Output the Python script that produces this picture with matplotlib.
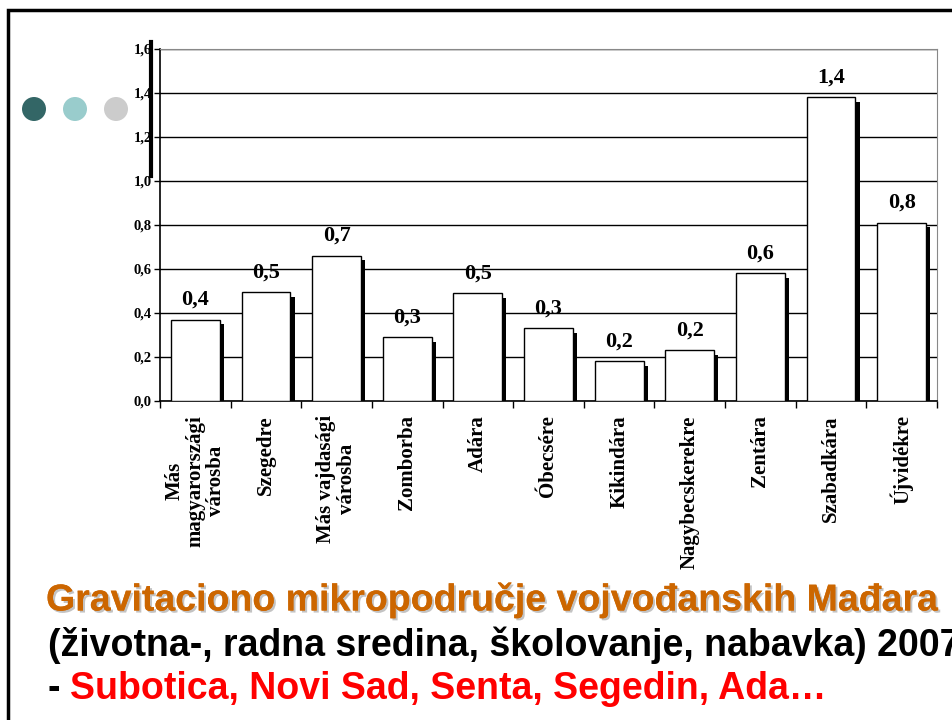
import numpy as np
import matplotlib.pyplot as plt
import matplotlib.patheffects as pe
from matplotlib.patches import Rectangle, Ellipse

categories = ["Más\nmagyarországi\nvárosba", "Szegedre", "Más vajdasági\nvárosba",
              "Zomborba", "Adára", "Óbecsére", "Kikindára", "Nagybecskerekre",
              "Zentára", "Szabadkára", "Újvidékre"]
values = [0.37, 0.495, 0.66, 0.29, 0.49, 0.33, 0.18, 0.23, 0.58, 1.38, 0.81]
value_labels = ["0,4", "0,5", "0,7", "0,3", "0,5", "0,3", "0,2", "0,2", "0,6", "1,4", "0,8"]
yticks = [0.0, 0.2, 0.4, 0.6, 0.8, 1.0, 1.2, 1.4, 1.6]
ytick_labels = ["0,0", "0,2", "0,4", "0,6", "0,8", "1,0", "1,2", "1,4", "1,6"]

serif = "Liberation Serif"
sans = "Liberation Sans"
W, H = 953, 720

fig = plt.figure(figsize=(9.53, 7.2), dpi=100)

# slide frame and decoration
fig.patches.append(Rectangle((8 / W, -0.1), 1.2, 1 - 10 / H + 0.1, transform=fig.transFigure,
                             fill=False, edgecolor="black", linewidth=2.5))
for cx, col in zip([34, 75, 116], ["#336666", "#99CCCC", "#CCCCCC"]):
    fig.patches.append(Ellipse((cx / W, 1 - 109 / H), 24 / W, 24 / H, transform=fig.transFigure,
                               facecolor=col, edgecolor="none"))
fig.lines.append(plt.Line2D([151 / W, 151 / W], [1 - 42 / H, 1 - 176 / H],
                            transform=fig.transFigure, color="black", linewidth=3, zorder=5))

ax = fig.add_axes([160 / W, 1 - 401 / H, (937 - 160) / W, (401 - 49) / H])
x = np.arange(len(values))
w = 0.69
ax.bar(x + 0.06, np.array(values) - 0.02, width=w, color="black", zorder=2)
ax.bar(x, values, width=w, color="white", edgecolor="black", linewidth=1, zorder=3)
for xi, v, lab in zip(x, values, value_labels):
    ax.text(xi, v + 0.045, lab, ha="center", va="bottom", fontsize=16,
            fontweight="bold", family=serif)

ax.set_xlim(-0.5, len(values) - 0.5)
ax.set_ylim(0, 1.6)
ax.set_yticks(yticks)
ax.set_yticklabels(ytick_labels, fontsize=10.5, fontweight="bold", family=serif)
ax.yaxis.grid(True, color="black", linewidth=1)
ax.set_axisbelow(True)
ax.set_xticks(np.arange(len(values) + 1) - 0.5)
ax.set_xticklabels([])
ax.tick_params(axis="x", length=5, width=1, direction="out")
ax.tick_params(axis="y", length=4, width=1, direction="out", pad=2)
for xi, c in zip(x, categories):
    ax.text(xi, -0.065, c, rotation=90, ha="center", va="top", multialignment="center",
            fontsize=15, fontweight="bold", family=serif, linespacing=1.05)
ax.spines["left"].set_linewidth(1.2)
ax.spines["bottom"].set_linewidth(1.2)
ax.spines["top"].set_color("#888888")
ax.spines["right"].set_color("#888888")

# slide title text
fs = 27
shadow = [pe.withSimplePatchShadow(offset=(1.5, -1.5), shadow_rgbFace="#888888", alpha=0.5),
          pe.Normal()]
fig.text(46 / W, 1 - 600 / H, "Gravitaciono mikropodručje vojvođanskih Mađara",
         color="#CC6600", fontsize=fs, fontweight="bold", family=sans, va="center",
         path_effects=shadow)
fig.text(48 / W, 1 - 645 / H, "(životna-, radna sredina, školovanje, nabavka) 2007",
         color="black", fontsize=fs, fontweight="bold", family=sans, va="center")
fig.text(48 / W, 1 - 689 / H, "-", color="black", fontsize=fs, fontweight="bold",
         family=sans, va="center")
fig.text(70 / W, 1 - 689 / H, "Subotica, Novi Sad, Senta, Segedin, Ada…",
         color="#FF0000", fontsize=fs, fontweight="bold", family=sans, va="center")

fig.savefig("out.png", dpi=100)
